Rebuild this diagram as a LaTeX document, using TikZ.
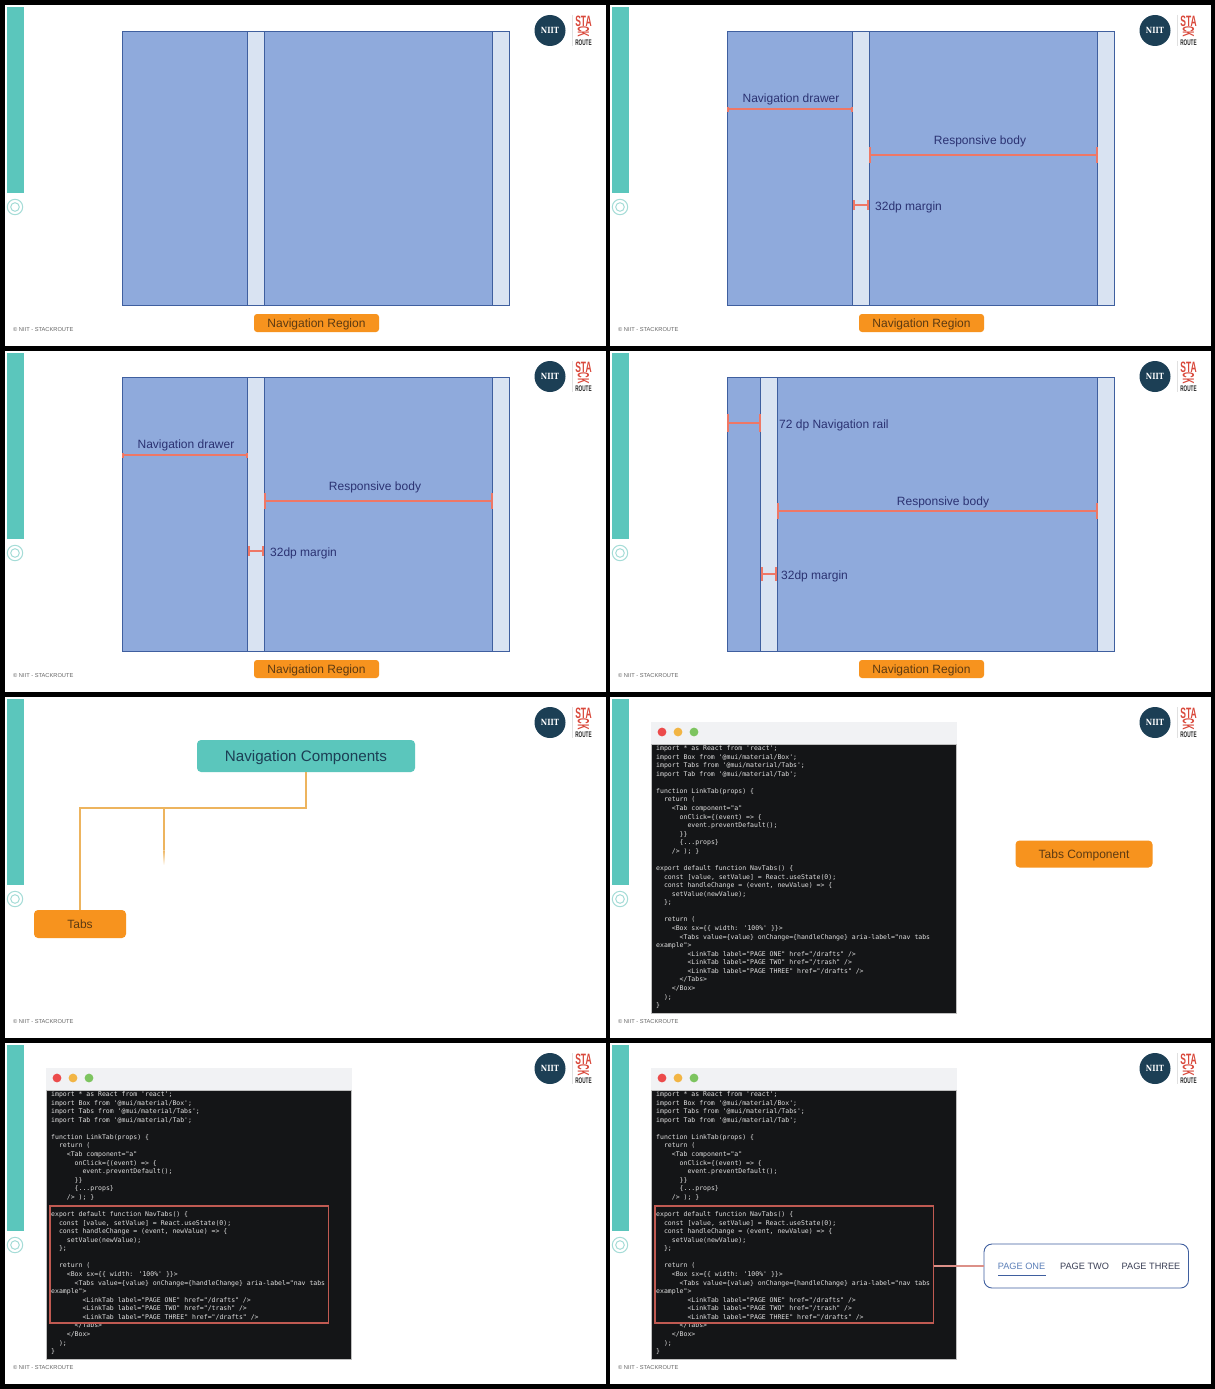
\documentclass[tikz,border=0pt]{standalone}
\usepackage{fontspec}
\setmainfont{Liberation Sans}
\newfontfamily\codefont{DejaVu Sans Mono}
\newfontfamily\logofont{DejaVu Serif}
\usetikzlibrary{arrows.meta,calc}
\definecolor{tealc}{HTML}{5BC6BC}
\definecolor{ringc}{HTML}{A5DCD7}
\definecolor{orangec}{HTML}{F7931E}
\definecolor{orangetx}{HTML}{5C3A12}
\definecolor{bluec}{HTML}{8FAADC}
\definecolor{lightc}{HTML}{D9E3F2}
\definecolor{edgec}{HTML}{3F5F9F}
\definecolor{inktx}{HTML}{2B3272}
\definecolor{dimc}{HTML}{EE7766}
\definecolor{navy}{HTML}{1C3F55}
\definecolor{logored}{HTML}{D9483B}
\definecolor{connc}{HTML}{EDB45E}
\definecolor{codebg}{HTML}{141517}
\definecolor{barbg}{HTML}{F1F2F4}
\definecolor{boxred}{HTML}{C05A52}
\definecolor{linkred}{HTML}{DC9088}
\definecolor{dotr}{HTML}{EC4B4B}
\definecolor{doty}{HTML}{F2B544}
\definecolor{dotg}{HTML}{7DC45F}
\definecolor{tabgrey}{HTML}{3A3F55}
\definecolor{tabblue}{HTML}{5B7FB8}
\tikzset{
  column/.style={draw=edgec,line width=0.8pt,fill=bluec,minimum width=#1,minimum height=274pt,inner sep=0pt,anchor=north west,outer sep=0pt},
  lightcolumn/.style={draw=edgec,line width=0.8pt,fill=lightc,minimum width=#1,minimum height=274pt,inner sep=0pt,anchor=north west,outer sep=0pt},
  orangebtn/.style={fill=orangec,rounded corners=3pt,text=orangetx,inner sep=0pt,anchor=center,text height=10pt,text depth=2pt},
  dimline/.style={draw=dimc,line width=1.3pt,{Bar[width=#1,line width=1.6pt]}-{Bar[width=#1,line width=1.6pt]}},
  dimlabel/.style={text=inktx,font=\fontsize{12}{14}\selectfont,inner sep=0pt,text height=10pt,text depth=2pt},
  conn/.style={draw=connc,line width=1.4pt},
  codeline/.style={anchor=west,inner sep=0pt,text=white!88!black,text height=5pt,text depth=1.5pt,font=\codefont\fontsize{6.5}{8}\selectfont},
}
\newcommand{\slidebase}[3]{%
  \begin{scope}[xshift=#2pt,yshift=-#3pt]
    \fill[white] (5,5) rectangle (606,346);
    \fill[tealc] (6.5,7) rectangle (24,193);
    \draw[ringc,line width=1pt] (15,207) circle (7.7);
    \draw[ringc,line width=1pt] (15,207) circle (4.3);
    \node[anchor=west,inner sep=0pt,text=black!60,font=\fontsize{5.7}{7}\selectfont] (#1foot) at (13,329.5) {© NIIT - STACKROUTE};
    \fill[navy] (550,30.5) circle (15.5);
    \node[text=white,inner sep=0pt,xscale=0.82,font=\logofont\bfseries\fontsize{8.5}{9}\selectfont] (#1niit) at (550,30.5) {NIIT};
    \draw[black!12,line width=0.4pt] (572,15) -- (572,46);
    \node[text=logored,inner sep=0pt,yscale=1.5,xscale=0.85,font=\bfseries\fontsize{10}{10}\selectfont] (#1sta) at (583.5,21) {STA};
    \node[text=logored,inner sep=0pt,rotate=-90,xscale=0.85,yscale=1.8,font=\bfseries\fontsize{9}{9}\selectfont] (#1ck) at (583.5,32) {CK};
    \node[text=black!85,inner sep=0pt,xscale=0.72,yscale=1.25,font=\bfseries\fontsize{6.5}{7}\selectfont] (#1route) at (583.5,42.8) {ROUTE};
  \end{scope}}
\newcommand{\regions}[6]{%
  \begin{scope}[xshift=#2pt,yshift=-#3pt]
    \node[column=#4pt] (#1a) at (122,31) {};
    \node[lightcolumn=16.5pt] (#1b) at (#5,31) {};
    \node[column=#6pt] (#1c) at (#5+16.5,31) {};
    \node[lightcolumn=17pt] (#1d) at (492,31) {};
    \node[orangebtn,minimum width=125pt,minimum height=18pt,font=\fontsize{12}{14}\selectfont] (#1btn) at (316.5,323) {Navigation Region};
  \end{scope}}
\newcommand{\dims}[3]{%
  \begin{scope}[xshift=#2pt,yshift=-#3pt]
    \coordinate (#1l1) at (122,109); \coordinate (#1r1) at (248,109);
    \draw[dimline=5pt] (#1l1) -- (#1r1);
    \node[dimlabel] (#1t1) at (186,98) {Navigation drawer};
    \coordinate (#1l2) at (264.3,155); \coordinate (#1r2) at (492.5,155);
    \draw[dimline=16pt] (#1l2) -- (#1r2);
    \node[dimlabel] (#1t2) at (375,140) {Responsive body};
    \coordinate (#1l3) at (248,205); \coordinate (#1r3) at (264,205);
    \draw[dimline=10pt] (#1l3) -- (#1r3);
    \node[dimlabel,anchor=west] (#1t3) at (270,206) {32dp margin};
  \end{scope}}
\newcommand{\codewindow}[3]{%
  \begin{scope}[xshift=#2pt,yshift=-#3pt]
    \fill[barbg] (46,30) rectangle (352,52);
    \node[fill=codebg,draw=black!25,line width=0.5pt,minimum width=305.5pt,minimum height=269pt,inner sep=0pt,outer sep=0pt,anchor=north west] (#1win) at (46,52) {};
    \fill[dotr] (57,40) circle (4.4);
    \fill[doty] (73,40) circle (4.4);
    \fill[dotg] (89,40) circle (4.4);
    \foreach \ln/\ind/\txt in {
      0/0/{import * as React from 'react';},
      1/0/{import Box from '@mui/material/Box';},
      2/0/{import Tabs from '@mui/material/Tabs';},
      3/0/{import Tab from '@mui/material/Tab';},
      5/0/{function LinkTab(props) \{},
      6/2/{return (},
      7/4/{<Tab component="a"},
      8/6/{onClick=\{(event) => \{},
      9/8/{event.preventDefault();},
      10/6/{\}\}},
      11/6/{\{...props\}},
      12/4/{/> ); \}},
      14/0/{export default function NavTabs() \{},
      15/2/{const [value, setValue] = React.useState(0);},
      16/2/{const handleChange = (event, newValue) => \{},
      17/4/{setValue(newValue);},
      18/2/{\};},
      20/2/{return (},
      21/4/{<Box sx=\{\{ width: '100\%' \}\}>},
      22/6/{<Tabs value=\{value\} onChange=\{handleChange\} aria-label="nav tabs},
      23/0/{example">},
      24/8/{<LinkTab label="PAGE ONE" href="/drafts" />},
      25/8/{<LinkTab label="PAGE TWO" href="/trash" />},
      26/8/{<LinkTab label="PAGE THREE" href="/drafts" />},
      27/6/{</Tabs>},
      28/4/{</Box>},
      29/2/{);},
      30/0/{\}}}{
      \node[codeline] at ({51+\ind*3.92},{56.8+\ln*8.57}) {\txt};
    }
  \end{scope}}
\begin{document}
\begin{tikzpicture}[x=1pt,y=-1pt]
\useasboundingbox (0,0) rectangle (1215,1389);
\fill[black] (0,0) rectangle (1215,1389);
% row 1
\slidebase{pA}{0}{0}
\regions{pA}{0}{0}{126}{247.5}{228}
\slidebase{pB}{605}{0}
\regions{pB}{605}{0}{126}{247.5}{228}
\dims{pB}{605}{0}
% row 2
\slidebase{pC}{0}{346}
\regions{pC}{0}{346}{126}{247.5}{228}
\dims{pC}{0}{346}
\slidebase{pD}{605}{346}
\regions{pD}{605}{346}{34}{155.5}{320.5}
\begin{scope}[xshift=605pt,yshift=-346pt]
  \coordinate (pDl1) at (122,77); \coordinate (pDr1) at (156,77);
  \draw[dimline=18pt] (pDl1) -- (pDr1);
  \node[dimlabel,anchor=west] (pDt1) at (174,78) {72 dp Navigation rail};
  \coordinate (pDl2) at (172.3,165); \coordinate (pDr2) at (492.5,165);
  \draw[dimline=16pt] (pDl2) -- (pDr2);
  \node[dimlabel] (pDt2) at (338,155) {Responsive body};
  \coordinate (pDl3) at (156,228); \coordinate (pDr3) at (172,228);
  \draw[dimline=14pt] (pDl3) -- (pDr3);
  \node[dimlabel,anchor=west] (pDt3) at (176,229.5) {32dp margin};
\end{scope}
% row 3
\slidebase{pE}{0}{692}
\begin{scope}[yshift=-692pt]
  \node[fill=tealc,rounded corners=4pt,minimum width=218pt,minimum height=32pt,inner sep=0pt,text=navy,text height=12pt,text depth=2pt,font=\fontsize{15.2}{18}\selectfont] (nav) at (306,64) {Navigation Components};
  \node[orangebtn,rounded corners=4pt,minimum width=92pt,minimum height=28pt,font=\fontsize{12}{14}\selectfont] (tabs) at (80,232) {Tabs};
  \coordinate (elbowR) at (306,116);
  \coordinate (elbowL) at (80,116);
  \coordinate (branch) at (164,116);
  \coordinate (branchend) at (164,158);
  \draw[conn] (nav.south) -- (elbowR) -- (elbowL) -- (tabs.north);
  \draw[conn] (branch) -- (branchend);
  \shade[top color=connc,bottom color=white] (163.3,158) rectangle (164.7,173);
\end{scope}
\slidebase{pF}{605}{692}
\codewindow{pF}{605}{692}
\begin{scope}[xshift=605pt,yshift=-692pt]
  \node[orangebtn,rounded corners=4pt,minimum width=137pt,minimum height=27pt,font=\fontsize{12}{14}\selectfont] (tabcomp) at (479,162) {Tabs Component};
\end{scope}
% row 4
\slidebase{pG}{0}{1038}
\codewindow{pG}{0}{1038}
\begin{scope}[yshift=-1038pt]
  \node[draw=boxred,line width=1.2pt,minimum width=278.5pt,minimum height=117pt,inner sep=0pt,outer sep=0pt,anchor=north west] (hlG) at (50,168) {};
\end{scope}
\slidebase{pH}{605}{1038}
\codewindow{pH}{605}{1038}
\begin{scope}[xshift=605pt,yshift=-1038pt]
  \node[draw=boxred,line width=1.2pt,minimum width=278.5pt,minimum height=117pt,inner sep=0pt,outer sep=0pt,anchor=north west] (hlH) at (50,168) {};
  \node[draw=edgec,line width=0.9pt,rounded corners=8pt,fill=white,minimum width=204.5pt,minimum height=44pt,inner sep=0pt,outer sep=0pt,anchor=north west] (tabbar) at (379,206) {};
  \draw[draw=linkred,line width=1.3pt] (hlH.east |- tabbar.west) -- (tabbar.west);
  \node[text=tabblue,inner sep=0pt,font=\fontsize{9.2}{11}\selectfont] (t1) at (416.5,228) {PAGE ONE};
  \node[text=tabgrey,inner sep=0pt,font=\fontsize{9.2}{11}\selectfont] (t2) at (479.5,228) {PAGE TWO};
  \node[text=tabgrey,inner sep=0pt,font=\fontsize{9.2}{11}\selectfont] (t3) at (546,228) {PAGE THREE};
  \coordinate (ul) at (393,237); \coordinate (ur) at (441,237);
  \draw[edgec,line width=0.9pt] (ul) -- (ur);
\end{scope}
\end{tikzpicture}
\end{document}
